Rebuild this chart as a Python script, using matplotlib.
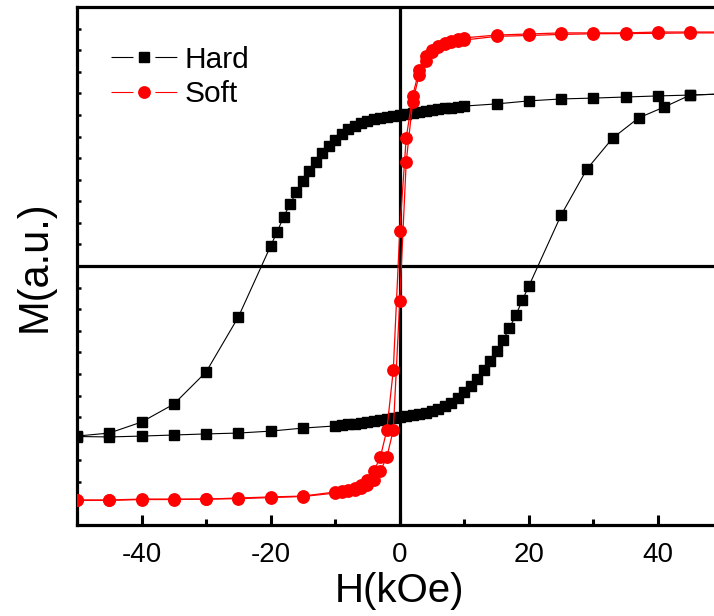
import numpy as np
import matplotlib
matplotlib.use("Agg")
import matplotlib.pyplot as plt
from matplotlib.lines import Line2D

plt.rcParams['font.family'] = ['Liberation Sans', 'DejaVu Sans']
plt.rcParams['axes.unicode_minus'] = False

# Hard magnet loop, descending branch (+50 -> -50 kOe)
hard_down_H = [50, 45, 40, 35, 30, 25, 20, 15, 10, 9, 8, 7, 6, 5, 4, 3, 2, 1, 0,
               -1, -2, -3, -4, -5, -6, -7, -8, -9, -10, -11, -12, -13, -14, -15,
               -16, -17, -18, -19, -20, -25, -30, -35, -40, -45, -50]
hard_down_M = [0.797, 0.792, 0.788, 0.783, 0.778, 0.774, 0.765, 0.751, 0.741, 0.737,
               0.734, 0.732, 0.728, 0.723, 0.718, 0.714, 0.709, 0.704, 0.700,
               0.695, 0.690, 0.686, 0.679, 0.672, 0.663, 0.649, 0.635, 0.612, 0.584,
               0.556, 0.524, 0.482, 0.440, 0.394, 0.343, 0.287, 0.227, 0.158, 0.093,
               -0.236, -0.491, -0.640, -0.723, -0.774, -0.788]

# Hard magnet loop, ascending branch (-50 -> +50 kOe)
hard_up_H = [-50, -45, -40, -35, -30, -25, -20, -15, -10, -9, -8, -7, -6, -5, -4, -3,
             -2, -1, 0, 1, 2, 3, 4, 5, 6, 7, 8, 9, 10, 11, 12, 13, 14, 15, 16, 17,
             18, 19, 20, 25, 29, 33, 37, 41, 45, 50]
hard_up_M = [-0.790, -0.792, -0.788, -0.783, -0.778, -0.774, -0.765, -0.751, -0.741,
             -0.737, -0.734, -0.732, -0.728, -0.723, -0.718, -0.714, -0.709, -0.704,
             -0.700, -0.695, -0.690, -0.686, -0.679, -0.672, -0.663, -0.649, -0.635,
             -0.612, -0.584, -0.556, -0.524, -0.482, -0.440, -0.394, -0.343, -0.287,
             -0.227, -0.158, -0.093, 0.236, 0.449, 0.593, 0.686, 0.737, 0.792, 0.797]

# Soft magnet loop
soft_down_H = [50, 45, 40, 35, 30, 25, 20, 15, 10, 9, 8, 7, 6, 5, 4, 3, 2, 1, 0,
               -1, -2, -3, -4, -5, -6, -7, -8, -9, -10, -15, -20, -25, -30, -35,
               -40, -45, -50]
soft_down_M = [1.084, 1.084, 1.084, 1.080, 1.080, 1.080, 1.075, 1.070, 1.057, 1.052,
               1.043, 1.033, 1.019, 1.001, 0.973, 0.908, 0.788, 0.593, 0.162,
               -0.482, -0.760, -0.885, -0.950, -0.992, -1.015, -1.029, -1.038,
               -1.043, -1.047, -1.066, -1.070, -1.075, -1.080, -1.080, -1.080,
               -1.084, -1.084]
soft_up_H = soft_down_H[::-1]
soft_up_M = [-1.086, -1.086, -1.082, -1.082, -1.080, -1.078, -1.073, -1.068, -1.052,
             -1.047, -1.043, -1.038, -1.029, -1.015, -0.992, -0.950, -0.885, -0.760,
             -0.162, 0.482, 0.760, 0.885, 0.950, 0.992, 1.015, 1.029, 1.038,
             1.043, 1.047, 1.064, 1.068, 1.073, 1.076, 1.077, 1.078, 1.080, 1.080]

fig = plt.figure(figsize=(7.14, 6.16), dpi=100)
ax = fig.add_axes([77 / 714, 91 / 616, 645.5 / 714, 518 / 616])

ax.axhline(0, color='black', lw=2.3, zorder=1.5)
ax.axvline(0, color='black', lw=2.3, zorder=1.5)

kw_hard = dict(color='black', lw=0.8, marker='s', ms=7.2, mec='black', mfc='black')
kw_soft = dict(color='red', lw=0.9, marker='o', ms=8.2, mec='red', mfc='red')
ax.plot(hard_down_H, hard_down_M, zorder=3, **kw_hard)
ax.plot(hard_up_H, hard_up_M, zorder=3, **kw_hard)
ax.plot(soft_down_H, soft_down_M, zorder=4, **kw_soft)
ax.plot(soft_up_H, soft_up_M, zorder=4, **kw_soft)

ax.set_xlim(-50, 50)
ax.set_ylim(-1.2, 1.2)
ax.set_xticks([-40, -20, 0, 20, 40])
ax.set_xticks([-50, -30, -10, 10, 30, 50], minor=True)
ax.set_yticks([])
ax.set_yticks(np.arange(-11, 12) / 10, minor=True)
ax.tick_params(axis='x', which='major', direction='in', length=7, width=2.2,
               labelsize=20, pad=12)
ax.tick_params(axis='x', which='minor', direction='in', length=4, width=2.2)
ax.tick_params(axis='y', which='minor', direction='in', length=3, width=1.8,
               labelleft=False)
for s in ax.spines.values():
    s.set_linewidth(2.3)

ax.set_xlabel('H(kOe)', fontsize=29, labelpad=3)
ax.set_ylabel('M(a.u.)', fontsize=30, labelpad=16)

# legend handles with a gap in the line around the marker
lw = 0.8
seg = 15.8 / lw
h_hard = (Line2D([], [], color='black', lw=lw, linestyle=(0, (seg, seg))),
          Line2D([], [], color='black', ls='none', marker='s', ms=7.2))
h_soft = (Line2D([], [], color='red', lw=lw, linestyle=(0, (seg, seg))),
          Line2D([], [], color='red', ls='none', marker='o', ms=8.2))
ax.legend([h_hard, h_soft], ['Hard', 'Soft'], loc='upper left',
          bbox_to_anchor=(34 / 645.5, 0.925), frameon=False, fontsize=21.5,
          handlelength=2.2, handletextpad=0.27, labelspacing=0.22,
          borderpad=0, borderaxespad=0)

fig.savefig('out.png', dpi=100)
